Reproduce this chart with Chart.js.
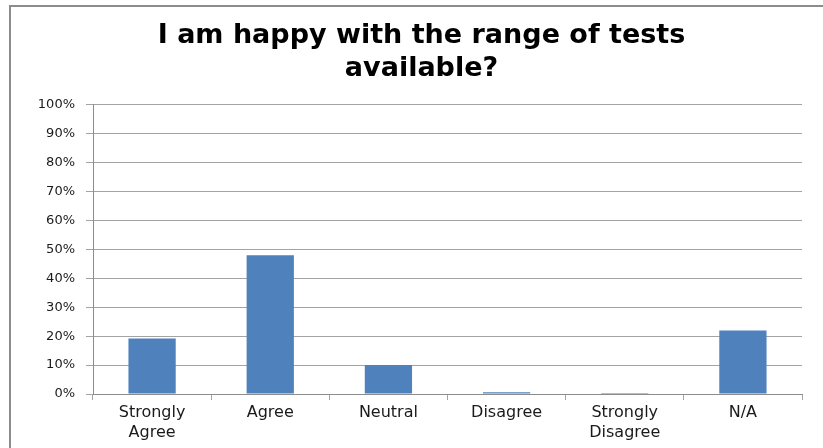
<!DOCTYPE html>
<html>
<head>
<meta charset="utf-8">
<script src="https://cdn.jsdelivr.net/npm/chart.js@4/dist/chart.umd.min.js"></script>
<style>
  html, body { margin: 0; padding: 0; background: #fff; }
  #wrap { position: relative; width: 823px; height: 448px; overflow: hidden; }
  #frame {
    position: absolute; left: 9px; top: 5px; right: -4px; bottom: -4px;
    border-left: 2px solid #8c8c8c; border-top: 2px solid #8c8c8c;
    pointer-events: none;
  }
  canvas { position: absolute; left: 0; top: 0; }
</style>
</head>
<body>
<div id="wrap">
  <div id="frame"></div>
  <canvas id="chart" width="823" height="448"></canvas>
</div>
<script>
// Survey question and answer categories
const chartTitle = ['I am happy with the range of tests', 'available?'];
const categories = [
  ['Strongly', 'Agree'],
  'Agree',
  'Neutral',
  'Disagree',
  ['Strongly', 'Disagree'],
  'N/A'
];
// Share of respondents per answer, in percent
const percentages = [19.2, 48, 10, 0.6, 0.3, 22];
// Value axis range and step, in percent
const axisMin = 0;
const axisMax = 100;
const axisStep = 10;

const FONT = 'DejaVu Sans';
const GRID = '#a3a3a3';
const AXIS = '#8c8c8c';

new Chart(document.getElementById('chart'), {
  type: 'bar',
  data: {
    labels: categories,
    datasets: [{
      data: percentages,
      backgroundColor: '#4F81BD',
      borderWidth: 0,
      barPercentage: 0.4,
      categoryPercentage: 1.0,
      minBarLength: 1
    }]
  },
  options: {
    responsive: false,
    animation: false,
    devicePixelRatio: 1,
    layout: { padding: { left: 20, right: 0, top: 0, bottom: 0 } },
    plugins: {
      legend: { display: false },
      tooltip: { enabled: false },
      title: {
        display: true,
        text: chartTitle,
        color: '#000',
        font: { family: FONT, size: 27, weight: 'bold', lineHeight: 1.22 },
        padding: { top: 20, bottom: 19 }
      }
    },
    scales: {
      x: {
        offset: true,
        grid: {
          offset: true,
          drawOnChartArea: false,
          drawTicks: true,
          tickLength: 6,
          color: GRID
        },
        border: { display: true, color: AXIS, width: 1 },
        ticks: {
          color: '#1a1a1a',
          font: { family: FONT, size: 16, lineHeight: 1.25 },
          padding: 3,
          maxRotation: 0,
          autoSkip: false
        },
        afterFit(scale) { scale.height = 54; }
      },
      y: {
        min: axisMin,
        max: axisMax,
        grid: { color: GRID, tickLength: 7, lineWidth: 1 },
        border: { display: true, color: AXIS, width: 1 },
        ticks: {
          stepSize: axisStep,
          color: '#1a1a1a',
          font: { family: FONT, size: 13 },
          padding: 11,
          callback: v => v + '%'
        },
        afterFit(scale) { scale.width = 73; }
      },
      // empty right-hand margin axis: keeps the plot clear of the right edge
      yRight: {
        position: 'right',
        min: axisMin,
        max: axisMax,
        grid: { display: false },
        border: { display: false },
        ticks: { display: false },
        afterFit(scale) { scale.width = 21; }
      }
    }
  }
});
</script>
</body>
</html>
